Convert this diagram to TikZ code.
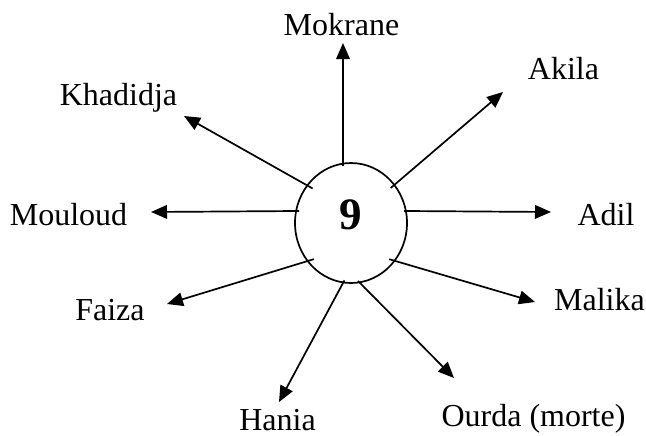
\documentclass[tikz,border=0pt]{standalone}
\usepackage{fontspec}
\setmainfont{Liberation Serif}
\usetikzlibrary{arrows.meta,shapes.geometric}
\begin{document}
\begin{tikzpicture}[x=0.5pt,y=-0.5pt,
  lbl/.style={anchor=base,inner sep=0pt,font=\fontsize{16}{19}\selectfont},
  conn/.style={line width=0.85pt,-{Triangle[length=8pt,width=6.8pt]},shorten <=-1.5pt},
  hub/.style={draw,line width=0.85pt,ellipse,minimum width=56pt,minimum height=60pt,inner sep=0pt}]
\useasboundingbox (0,0) rectangle (646,435);
\node[hub] (c) at (351,223) {};
\node[anchor=base,inner sep=0pt,font=\fontsize{22.5}{26}\selectfont\bfseries] (num) at (351,229) {9};
% labels
\node[lbl] (mok) at (341.5,35) {Mokrane};
\node[lbl] (aki) at (563.5,79) {Akila};
\node[lbl] (kha) at (118.5,105) {Khadidja};
\node[lbl] (mou) at (68.5,225) {Mouloud};
\node[lbl] (adi) at (606,225) {Adil};
\node[lbl] (fai) at (110,320) {Faiza};
\node[lbl] (mal) at (599.5,310) {Malika};
\node[lbl] (han) at (277.5,430) {Hania};
\node[lbl] (our) at (533.5,426) {Ourda (morte)};
% start points on the circle
\coordinate (s1) at (343,163);
\coordinate (s2) at (393,186);
\coordinate (s3) at (310,187);
\coordinate (s4) at (296,211);
\coordinate (s5) at (407,211);
\coordinate (s6) at (311,260);
\coordinate (s7) at (392,260);
\coordinate (s8) at (343,283);
\coordinate (s9) at (360,283);
% arrow tips
\coordinate (t1) at (343,43);
\coordinate (t2) at (503,92);
\coordinate (t3) at (184,116);
\coordinate (t4) at (151,212);
\coordinate (t5) at (551,212);
\coordinate (t6) at (167,304);
\coordinate (t7) at (535,302);
\coordinate (t8) at (279,402);
\coordinate (t9) at (454,378);
\foreach \i in {1,...,9} {\draw[conn] (s\i) -- (t\i);}
\end{tikzpicture}
\end{document}
